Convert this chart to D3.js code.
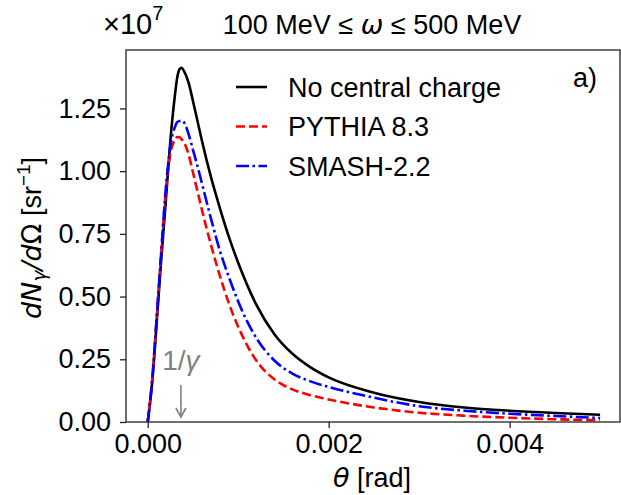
<!DOCTYPE html>
<html>
<head>
<meta charset="utf-8">
<script src="https://cdn.jsdelivr.net/npm/d3@7"></script>
<style>
  body { margin: 0; background: #fff; }
  text { font-family: "Liberation Sans", Arial, sans-serif; }
</style>
</head>
<body>
<div id="chart"></div>
<script>
// theta in units of 1e-3 rad, values in units of 1e7 sr^-1
const thetaVals = [0, 0.05, 0.1, 0.15, 0.2, 0.25, 0.3, 0.325, 0.35, 0.375, 0.4, 0.45, 0.5, 0.55, 0.6, 0.7, 0.8, 0.9, 1.0,
                   1.2, 1.4, 1.6, 1.8, 2.0, 2.5, 3.0, 3.5, 4.0, 4.5, 5.0]
const noCentral = [0, 0.16, 0.40, 0.65, 0.88, 1.12, 1.30, 1.37, 1.405, 1.412, 1.40, 1.355, 1.28, 1.20, 1.12, 0.975, 0.85, 0.735, 0.635,
                   0.468, 0.35, 0.272, 0.218, 0.178, 0.117, 0.08, 0.058, 0.045, 0.036, 0.029]
const pythia = [0, 0.17, 0.42, 0.68, 0.92, 1.07, 1.125, 1.136, 1.135, 1.127, 1.115, 1.07, 0.995, 0.92, 0.845, 0.705, 0.58, 0.47, 0.38,
                0.245, 0.17, 0.13, 0.107, 0.09, 0.058, 0.037, 0.025, 0.017, 0.011, 0.007]
const smash = [0, 0.17, 0.42, 0.68, 0.93, 1.10, 1.175, 1.195, 1.20, 1.202, 1.195, 1.15, 1.085, 1.02, 0.95, 0.81, 0.68, 0.575, 0.48,
               0.335, 0.245, 0.193, 0.162, 0.14, 0.097, 0.063, 0.045, 0.033, 0.024, 0.016]
const seriesNames = ["No central charge", "PYTHIA 8.3", "SMASH-2.2"]
const xTicks = [0, 0.002, 0.004]
const yTicks = [0, 0.25, 0.5, 0.75, 1.0, 1.25]
const gammaInv = 0.000367

const WIDTH = 621
const HEIGHT = 495
const PLOT = {LEFT: 126, RIGHT: 620, TOP: 50, BOTTOM: 422}
const FONT = 27

let svg = d3.select("#chart").append("svg")
    .attr("width", WIDTH)
    .attr("height", HEIGHT)

// scales
let xScale = d3.scaleLinear()
    .domain([-0.00024, 0.00522])
    .range([PLOT.LEFT, PLOT.RIGHT])

let yScale = d3.scaleLinear()
    .domain([0, 1.483])
    .range([PLOT.BOTTOM, PLOT.TOP])

// clip for the curves
svg.append("clipPath").attr("id", "clip")
    .append("rect")
    .attr("x", PLOT.LEFT).attr("y", PLOT.TOP)
    .attr("width", PLOT.RIGHT - PLOT.LEFT).attr("height", PLOT.BOTTOM - PLOT.TOP)

let series = [
    {name: seriesNames[0], values: noCentral, color: "#000000", dash: null},
    {name: seriesNames[1], values: pythia, color: "#ff0000", dash: "9,4"},
    {name: seriesNames[2], values: smash, color: "#0000ff", dash: "13,3.5,2.5,3.5"}
]

let line = d3.line()
    .x(d => xScale(d[0] * 1e-3))
    .y(d => yScale(d[1]))
    .curve(d3.curveMonotoneX)

let plotG = svg.append("g").attr("clip-path", "url(#clip)")

plotG.selectAll("path.curve")
    .data(series)
    .enter()
    .append("path")
    .attr("class", "curve")
    .attr("d", s => line(thetaVals.map((t, i) => [t, s.values[i]])))
    .attr("fill", "none")
    .attr("stroke", s => s.color)
    .attr("stroke-width", 2.6)
    .attr("stroke-dasharray", s => s.dash)

// frame
svg.append("rect")
    .attr("x", PLOT.LEFT).attr("y", PLOT.TOP)
    .attr("width", PLOT.RIGHT - PLOT.LEFT).attr("height", PLOT.BOTTOM - PLOT.TOP)
    .attr("fill", "none")
    .attr("stroke", "#222")
    .attr("stroke-width", 1.3)

// x axis
let xAxis = svg.append("g")
    .attr("transform", "translate(0," + PLOT.BOTTOM + ")")
    .call(d3.axisBottom(xScale).tickValues(xTicks).tickFormat(d3.format(".3f")).tickSizeOuter(0).tickSize(6).tickPadding(6))
xAxis.select(".domain").remove()
xAxis.selectAll("line").attr("stroke", "#222").attr("stroke-width", 1.3)
xAxis.selectAll("text").attr("font-size", FONT).attr("fill", "#000")
    .attr("font-family", "Liberation Sans, Arial, sans-serif")

// y axis
let yAxis = svg.append("g")
    .attr("transform", "translate(" + PLOT.LEFT + ",0)")
    .call(d3.axisLeft(yScale).tickValues(yTicks).tickFormat(d3.format(".2f")).tickSizeOuter(0).tickSize(6).tickPadding(9))
yAxis.select(".domain").remove()
yAxis.selectAll("line").attr("stroke", "#222").attr("stroke-width", 1.3)
yAxis.selectAll("text").attr("font-size", FONT).attr("fill", "#000")
    .attr("font-family", "Liberation Sans, Arial, sans-serif")

// x label
let xl = svg.append("text")
    .attr("x", 372).attr("y", 487)
    .attr("text-anchor", "middle")
    .attr("font-size", FONT)
xl.append("tspan").attr("font-family", "DejaVu Sans").attr("font-style", "italic").text("θ")
xl.append("tspan").text(" [rad]")

// y label
let yl = svg.append("text")
    .attr("transform", "translate(41,238) rotate(-90)")
    .attr("text-anchor", "middle")
    .attr("font-size", FONT)
yl.append("tspan").attr("font-family", "DejaVu Sans").attr("font-style", "italic").text("dN")
yl.append("tspan").attr("font-family", "DejaVu Sans").attr("font-style", "italic")
    .attr("font-size", 19).attr("dy", 5).text("γ")
yl.append("tspan").attr("font-family", "DejaVu Sans").attr("font-style", "italic").attr("dy", -5).text("/d")
yl.append("tspan").attr("font-family", "DejaVu Sans").text("Ω")
yl.append("tspan").text(" [sr")
yl.append("tspan").attr("font-size", 19).attr("dy", -11).text("−1")
yl.append("tspan").attr("dy", 11).text("]")

// multiplier
let mult = svg.append("text")
    .attr("x", 103).attr("y", 34)
    .attr("font-size", 29)
mult.append("tspan").text("×10")
mult.append("tspan").attr("font-size", 20).attr("dy", -14).text("7")

// title
let title = svg.append("text")
    .attr("x", 372).attr("y", 34)
    .attr("text-anchor", "middle")
    .attr("font-size", FONT)
title.append("tspan").text("100 MeV ≤ ")
title.append("tspan").attr("font-family", "DejaVu Sans").attr("font-style", "italic").text("ω")
title.append("tspan").text(" ≤ 500 MeV")

// panel tag
svg.append("text")
    .attr("x", 573).attr("y", 87)
    .attr("font-size", FONT)
    .text("a)")

// legend
let legend = svg.append("g")
let rows = legend.selectAll("g")
    .data(series)
    .enter()
    .append("g")
    .attr("transform", (d, i) => "translate(236," + (87 + i * 39.5) + ")")
rows.append("line")
    .attr("x1", 0).attr("x2", 31)
    .attr("stroke", d => d.color)
    .attr("stroke-width", 2.6)
    .attr("stroke-dasharray", d => d.dash)
rows.append("text")
    .attr("x", 52).attr("y", 9.5)
    .attr("font-size", FONT)
    .text(d => d.name)

// 1/gamma annotation
let ann = svg.append("text")
    .attr("x", xScale(gammaInv)).attr("y", 370)
    .attr("text-anchor", "middle")
    .attr("font-size", 28)
    .attr("font-family", "DejaVu Sans")
    .attr("fill", "#808080")
ann.append("tspan").text("1/")
ann.append("tspan").attr("font-style", "italic").text("γ")

let ax = xScale(gammaInv)
let arrow = svg.append("g")
    .attr("stroke", "#808080")
    .attr("stroke-width", 1.6)
    .attr("fill", "none")
arrow.append("line").attr("x1", ax).attr("x2", ax).attr("y1", 385).attr("y2", 417)
arrow.append("path").attr("d", "M" + (ax - 5) + ",408 L" + ax + ",417 L" + (ax + 5) + ",408")
</script>
</body>
</html>
